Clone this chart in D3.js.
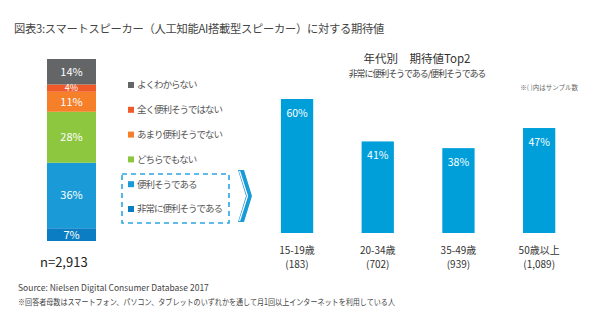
<!DOCTYPE html>
<html>
<head>
<meta charset="utf-8">
<script src="https://cdn.jsdelivr.net/npm/d3@7"></script>
<style>
  html, body { margin: 0; padding: 0; background: #fff; }
  svg { display: block; font-family: "Noto Sans CJK JP", "Noto Sans", sans-serif; }
</style>
</head>
<body>
<svg id="chart" width="600" height="334"></svg>
<script>
// overall answer distribution (bottom to top)
const answerCats = ["非常に便利そうである", "便利そうである", "どちらでもない", "あまり便利そうでない", "全く便利そうではない", "よくわからない"]
const answerValues = [7, 36, 28, 11, 4, 14]
const answerColors = ["#0b7dc3", "#1a9bd7", "#8dc63f", "#f6802a", "#f05a28", "#646567"]

// top2 share by age group
const ageGroups = ["15-19歳", "20-34歳", "35-49歳", "50歳以上"]
const sampleSizes = ["(183)", "(702)", "(939)", "(1,089)"]
const top2Values = [60, 41, 38, 47]

const svg = d3.select("#chart")

svg.append("text")
  .attr("x", 14).attr("y", 33)
  .attr("font-size", 11.3).attr("fill", "#444")
  .attr("letter-spacing", -0.3)
  .text("図表3:スマートスピーカー（人工知能AI搭載型スピーカー）に対する期待値")

// ---- stacked bar ----
const yStack = d3.scaleLinear().domain([0, 100]).range([241, 59])
let acc = 0
const stack = answerValues.map((v, i) => {
  const s = { cat: answerCats[i], v, y0: acc, y1: acc + v, color: answerColors[i] }
  acc += v
  return s
})

const sg = svg.append("g")
sg.selectAll("rect")
  .data(stack)
  .join("rect")
  .attr("x", 47).attr("width", 49)
  .attr("y", d => yStack(d.y1))
  .attr("height", d => yStack(d.y0) - yStack(d.y1))
  .attr("fill", d => d.color)

sg.selectAll("text")
  .data(stack)
  .join("text")
  .attr("x", 71.5)
  .attr("y", d => (yStack(d.y0) + yStack(d.y1)) / 2)
  .attr("dy", "0.36em")
  .attr("text-anchor", "middle")
  .attr("font-size", d => d.v < 5 ? 9 : 11)
  .attr("fill", "#fff")
  .text(d => d.v + "%")

svg.append("text")
  .attr("x", 40).attr("y", 267)
  .attr("font-size", 13).attr("fill", "#222")
  .text("n=2,913")

// ---- legend ----
const yLegend = d3.scalePoint()
  .domain(answerCats.slice().reverse())
  .range([85, 209])

const lg = svg.append("g")
  .selectAll("g")
  .data(stack)
  .join("g")
  .attr("transform", d => `translate(128,${yLegend(d.cat)})`)
lg.append("rect")
  .attr("x", 0).attr("y", -3).attr("width", 6).attr("height", 6)
  .attr("fill", d => d.color)
lg.append("text")
  .attr("x", 9).attr("dy", "0.36em")
  .attr("font-size", 9.5).attr("fill", "#555")
  .attr("letter-spacing", -1)
  .text(d => d.cat)

svg.append("rect")
  .attr("x", 122).attr("y", 174).attr("width", 107).attr("height", 49)
  .attr("fill", "none")
  .attr("stroke", "#2aa7e0").attr("stroke-width", 1.6)
  .attr("stroke-dasharray", "5,4")

// double chevron arrow
svg.append("path")
  .attr("d", "M238,170 L244,170 L252,196 L244,222 L238,222 L246,196 Z")
  .attr("fill", "#1a9bd7")
svg.append("path")
  .attr("d", "M239.5,171 L247.5,196 L239.5,221")
  .attr("fill", "none").attr("stroke", "#fff").attr("stroke-width", 1.2)

// ---- age group bars ----
svg.append("text")
  .attr("x", 417).attr("y", 63)
  .attr("text-anchor", "middle")
  .attr("font-size", 11.5).attr("fill", "#333")
  .text("年代別　期待値Top2")
svg.append("text")
  .attr("x", 417).attr("y", 77)
  .attr("text-anchor", "middle")
  .attr("font-size", 9).attr("fill", "#444")
  .attr("letter-spacing", -1.1)
  .text("非常に便利そうである/便利そうである")
svg.append("text")
  .attr("x", 578).attr("y", 90)
  .attr("text-anchor", "end")
  .attr("font-size", 6.5).attr("fill", "#666")
  .text("※( )内はサンプル数")

const x = d3.scaleBand()
  .domain(ageGroups)
  .range([256.7, 579.5])
  .paddingInner(0.6)
  .paddingOuter(0.3)
const y = d3.scaleLinear().domain([0, 60]).range([233, 99])

const bars = svg.append("g")
  .selectAll("g")
  .data(ageGroups.map((g, i) => ({ g, v: top2Values[i], n: sampleSizes[i] })))
  .join("g")

bars.append("rect")
  .attr("x", d => x(d.g))
  .attr("width", x.bandwidth())
  .attr("y", d => y(d.v))
  .attr("height", d => y(0) - y(d.v))
  .attr("fill", "#009fda")

bars.append("text")
  .attr("x", d => x(d.g) + x.bandwidth() / 2)
  .attr("y", d => y(d.v) + 18)
  .attr("text-anchor", "middle")
  .attr("font-size", 10.5).attr("fill", "#fff")
  .text(d => d.v + "%")

bars.append("text")
  .attr("x", d => x(d.g) + x.bandwidth() / 2)
  .attr("y", 254)
  .attr("text-anchor", "middle")
  .attr("font-size", 10).attr("fill", "#333")
  .text(d => d.g)
bars.append("text")
  .attr("x", d => x(d.g) + x.bandwidth() / 2)
  .attr("y", 268)
  .attr("text-anchor", "middle")
  .attr("font-size", 10).attr("fill", "#333")
  .text(d => d.n)

// ---- footnotes ----
svg.append("text")
  .attr("x", 18).attr("y", 291)
  .attr("font-size", 8.5).attr("fill", "#444")
  .text("Source: Nielsen Digital Consumer Database 2017")
svg.append("text")
  .attr("x", 18).attr("y", 305)
  .attr("font-size", 8.5).attr("fill", "#444")
  .attr("textLength", 377).attr("lengthAdjust", "spacingAndGlyphs")
  .text("※回答者母数はスマートフォン、パソコン、タブレットのいずれかを通して月1回以上インターネットを利用している人")
</script>
</body>
</html>
